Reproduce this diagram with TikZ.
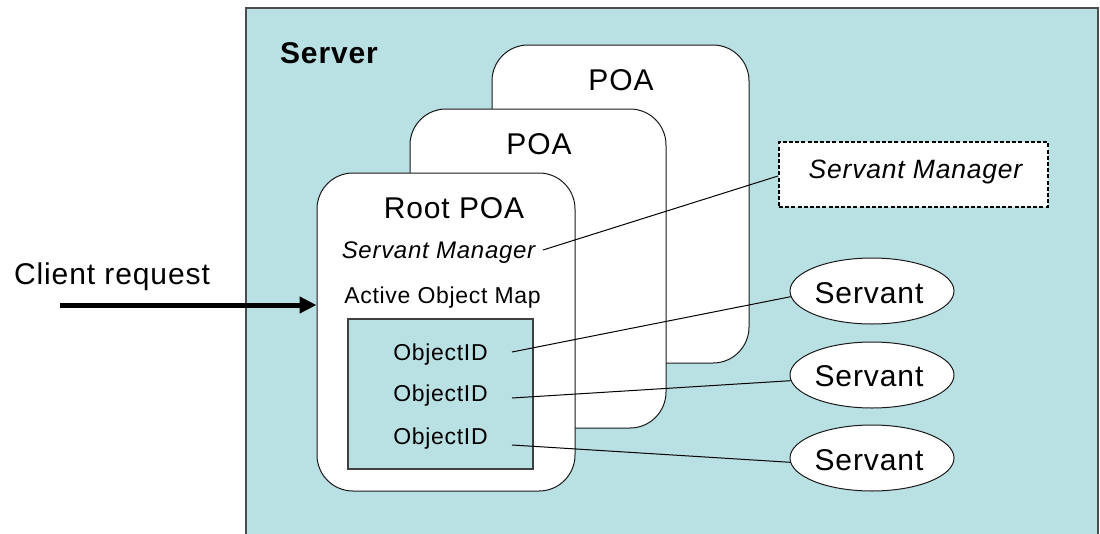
\documentclass[tikz,border=0pt]{standalone}
\usepackage{fontspec}
\setmainfont{Liberation Sans}[LetterSpace=3.0]
\usetikzlibrary{arrows.meta,shapes.geometric}
\definecolor{srvfill}{HTML}{B9E0E3}
\definecolor{edge}{HTML}{1A1A1A}
\tikzset{
  serverbox/.style={draw=black!70, line width=1.3pt, fill=srvfill, inner sep=0pt},
  poabox/.style={draw=edge, line width=1pt, fill=white, rounded corners=36pt, inner sep=0pt},
  mapbox/.style={draw=black!75, line width=1.3pt, fill=srvfill, inner sep=0pt},
  smbox/.style={draw=black, line width=2pt, dash pattern=on 4pt off 2.2pt, fill=white, inner sep=0pt},
  servantnode/.style={ellipse, draw=edge, line width=1pt, fill=white, inner sep=0pt, minimum width=164pt, minimum height=66pt},
  lbl/.style={anchor=base, inner sep=0pt, text=black},
  bigfont/.style={font=\fontsize{30}{36}\selectfont},
  midfont/.style={font=\fontsize{23}{28}\selectfont},
  link/.style={draw=black, line width=1pt},
}
\begin{document}
\begin{tikzpicture}[x=1pt,y=-1pt]
\useasboundingbox (0,0) rectangle (1100,533);
\clip (0,0) rectangle (1100,533);
% server container
\node[serverbox, minimum width=852pt, minimum height=560pt] (server) at (672,288) {};
\node[lbl, font=\bfseries\fontsize{30}{36}\selectfont] (servertxt) at (329,63) {Server};
% POA stack
\node[poabox, minimum width=257pt, minimum height=318pt] (poa3) at (620.5,204) {};
\node[lbl, bigfont] (poa3txt) at (621,90) {POA};
\node[poabox, minimum width=256pt, minimum height=319pt] (poa2) at (538,268.5) {};
\node[lbl, bigfont] (poa2txt) at (539,154) {POA};
\node[poabox, minimum width=258pt, minimum height=318pt] (root) at (446,332) {};
\node[lbl, bigfont] (roottxt) at (454,218) {Root POA};
\node[lbl, font=\itshape\fontsize{24}{29}\selectfont] (smtxt) at (438.5,258) {Servant Manager};
\node[lbl, midfont] (aomtxt) at (442.5,303) {Active Object Map};
\node[mapbox, minimum width=185pt, minimum height=150pt] (aom) at (440.5,394) {};
\node[lbl, midfont] (oid1) at (440.5,360) {ObjectID};
\node[lbl, midfont] (oid2) at (440.5,401) {ObjectID};
\node[lbl, midfont] (oid3) at (440.5,444) {ObjectID};
% servant manager box
\node[smbox, minimum width=269pt, minimum height=65pt] (smbox) at (913.5,174.5) {};
\node[lbl, font=\itshape\fontsize{26.5}{31}\selectfont] (smboxtxt) at (915.5,178) {Servant Manager};
% servants
\node[servantnode] (s1) at (872,291) {};
\node[lbl, bigfont] (s1txt) at (869,303) {Servant};
\node[servantnode] (s2) at (872,375) {};
\node[lbl, bigfont] (s2txt) at (869,386) {Servant};
\node[servantnode] (s3) at (872,458) {};
\node[lbl, bigfont] (s3txt) at (869,470) {Servant};
% client request
\node[lbl, bigfont] (client) at (112,284) {Client request};
\coordinate (crstart) at (60,305);
\draw[line width=5pt, -{Triangle[length=17pt,width=16pt]}] (crstart) -- (crstart -| root.west);
% connectors
\coordinate (smstart) at (543,250);
\coordinate (o1e) at (512,352);
\coordinate (o2e) at (512,398);
\coordinate (o3e) at (512,445);
\draw[link] (smstart) -- ([yshift=-1.5pt]smbox.west);
\draw[link] (o1e) -- (s1.184);
\draw[link] (o2e) -- (s2.184);
\draw[link] (o3e) -- (s3.183);
\end{tikzpicture}
\end{document}
